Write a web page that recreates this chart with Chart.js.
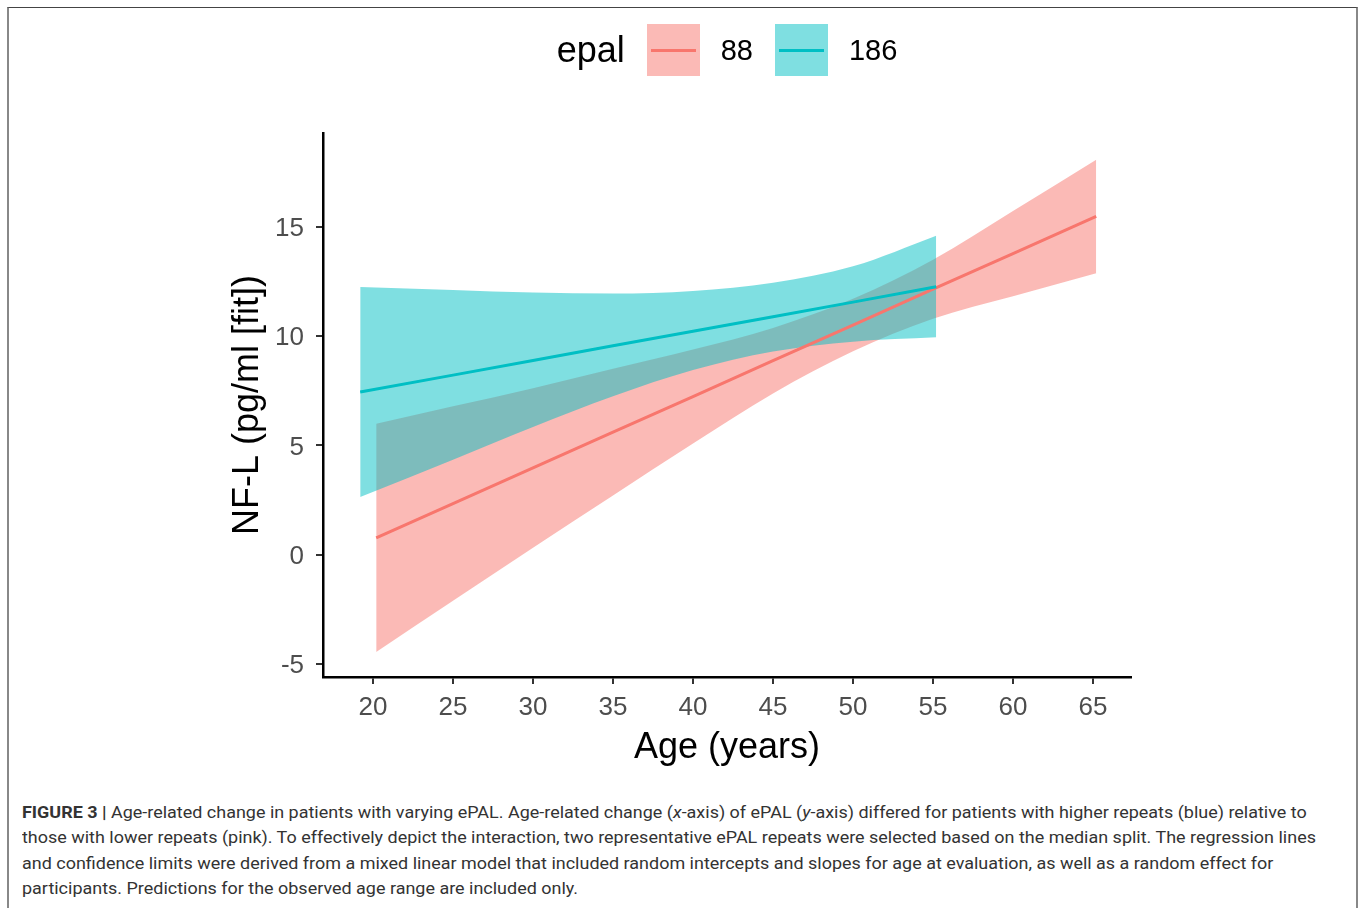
<!DOCTYPE html>
<html>
<head>
<meta charset="utf-8">
<script src="https://cdn.jsdelivr.net/npm/chart.js@4.4.1/dist/chart.umd.min.js"></script>
<style>
  html, body { margin: 0; padding: 0; background: #fff; }
  body { width: 1360px; height: 908px; position: relative; overflow: hidden; font-family: "Liberation Sans", Arial, sans-serif; }
  #frame { position: absolute; left: 7px; top: 7px; width: 1347px; height: 920px; border-top: 1.5px solid #444; border-left: 2px solid #888; border-right: 2px solid #888; }
  #chart { position: absolute; left: 0; top: 0; }
  #legend { position: absolute; top: 24px; left: 0; width: 1454px; display: flex; justify-content: center; align-items: center; }
  #legend .title { font-size: 36px; color: #000; margin-right: 22px; }
  #legend .key { width: 53px; height: 52px; position: relative; margin-right: 21px; }
  #legend .key i { position: absolute; left: 4px; right: 4px; top: 25px; height: 3px; }
  #legend .lab { font-size: 29px; color: #000; margin-right: 22px; }
  #legend .lab:last-child { margin-right: 0; }
  #caption { position: absolute; left: 22px; top: 800px; font-family: Roboto, "Liberation Sans", sans-serif; font-size: 17px; line-height: 25.3px; color: #333; white-space: nowrap; }
  #caption div { transform-origin: 0 0; }
</style>
</head>
<body>
<div id="frame"></div>
<canvas id="chart" width="1360" height="775"></canvas>
<div id="legend">
  <span class="title">epal</span>
  <span class="key" style="background: rgba(248,118,109,0.5)"><i style="background:#F8766D"></i></span>
  <span class="lab">88</span>
  <span class="key" style="background: rgba(0,191,196,0.5)"><i style="background:#00BFC4"></i></span>
  <span class="lab">186</span>
</div>
<div id="caption">
  <div><b>FIGURE 3 |</b> Age-related change in patients with varying ePAL. Age-related change (<i>x</i>-axis) of ePAL (<i>y</i>-axis) differed for patients with higher repeats (blue) relative to</div>
  <div>those with lower repeats (pink). To effectively depict the interaction, two representative ePAL repeats were selected based on the median split. The regression lines</div>
  <div>and confidence limits were derived from a mixed linear model that included random intercepts and slopes for age at evaluation, as well as a random effect for</div>
  <div>participants. Predictions for the observed age range are included only.</div>
</div>
<script>
// epal = 88 (pink)
const pinkAge  = [20.2, 25, 30, 35, 40, 45, 50, 55, 60, 65.2];
const pinkFit  = [0.77, 2.34, 3.97, 5.61, 7.24, 8.88, 10.51, 12.15, 13.78, 15.48];
const pinkLow  = [-4.45, -2.11, 0.32, 2.71, 5.09, 7.38, 9.31, 10.8, 11.83, 12.88];
const pinkHigh = [5.99, 6.79, 7.62, 8.51, 9.39, 10.38, 11.71, 13.5, 15.73, 18.08];

// epal = 186 (teal)
const tealAge  = [19.2, 25, 30, 35, 40, 45, 50, 55.2];
const tealFit  = [7.45, 8.22, 8.89, 9.56, 10.23, 10.89, 11.56, 12.26];
const tealLow  = [2.64, 4.35, 5.85, 7.25, 8.45, 9.3, 9.75, 9.95];
const tealHigh = [12.25, 12.12, 12.0, 11.95, 12.07, 12.45, 13.2, 14.6];

const xTicks = [20, 25, 30, 35, 40, 45, 50, 55, 60, 65];
const yTicks = [-5, 0, 5, 10, 15];

const pts = (xs, ys) => xs.map((x, i) => ({ x: x, y: ys[i] }));

// 帯の境界線（線は描かない）
const edge = (data, order, extra) => Object.assign({
  data: data,
  borderColor: 'transparent',
  borderWidth: 0,
  pointRadius: 0,
  cubicInterpolationMode: 'monotone',
  fill: false,
  order: order
}, extra || {});

const ctx = document.getElementById('chart').getContext('2d');
new Chart(ctx, {
  type: 'line',
  data: {
    datasets: [
      { label: '186', data: pts(tealAge, tealFit), borderColor: '#00BFC4', borderWidth: 3, pointRadius: 0, fill: false, order: 0 },
      { label: '88', data: pts(pinkAge, pinkFit), borderColor: '#F8766D', borderWidth: 3, pointRadius: 0, fill: false, order: 0 },
      edge(pts(tealAge, tealLow), 1),
      edge(pts(tealAge, tealHigh), 1, { fill: 2, backgroundColor: 'rgba(0,191,196,0.5)' }),
      edge(pts(pinkAge, pinkLow), 2),
      edge(pts(pinkAge, pinkHigh), 2, { fill: 4, backgroundColor: 'rgba(248,118,109,0.5)' })
    ]
  },
  options: {
    responsive: false,
    animation: false,
    layout: { padding: { top: 133, right: 229, bottom: 0, left: 0 } },
    plugins: { legend: { display: false }, tooltip: { enabled: false } },
    scales: {
      x: {
        type: 'linear',
        min: 16.875,
        max: 67.375,
        afterBuildTicks: s => { s.ticks = xTicks.map(v => ({ value: v })); },
        afterFit: s => { s.height = 98; },
        border: { display: true, color: '#000', width: 2.5 },
        grid: { drawOnChartArea: false, drawTicks: true, tickLength: 7, tickColor: '#333', lineWidth: 2 },
        ticks: { color: '#4D4D4D', padding: 8, font: { family: 'Liberation Sans', size: 26 }, maxRotation: 0 },
        title: { display: true, text: 'Age (years)', color: '#000', font: { family: 'Liberation Sans', size: 36, lineHeight: 1 }, padding: { top: 0, bottom: 9 } }
      },
      y: {
        type: 'linear',
        min: -5.595,
        max: 19.3,
        afterBuildTicks: s => { s.ticks = yTicks.map(v => ({ value: v })); },
        afterFit: s => { s.width = 323; },
        border: { display: true, color: '#000', width: 2.5 },
        grid: { drawOnChartArea: false, drawTicks: true, tickLength: 7, tickColor: '#333', lineWidth: 2 },
        ticks: { color: '#4D4D4D', padding: 12, labelOffset: 2, font: { family: 'Liberation Sans', size: 26 } },
        title: { display: true, text: 'NF-L (pg/ml [fit])', color: '#000', font: { family: 'Liberation Sans', size: 36, lineHeight: 1 }, padding: { top: 230, bottom: 0 } }
      }
    }
  }
});

// キャプションの行幅を元の図に合わせる
const lines = document.querySelectorAll('#caption div');
const w0 = lines[0].scrollWidth;
const k = 1294 / w0;
lines.forEach(d => { d.style.transform = 'scaleX(' + k + ')'; });
</script>
</body>
</html>
